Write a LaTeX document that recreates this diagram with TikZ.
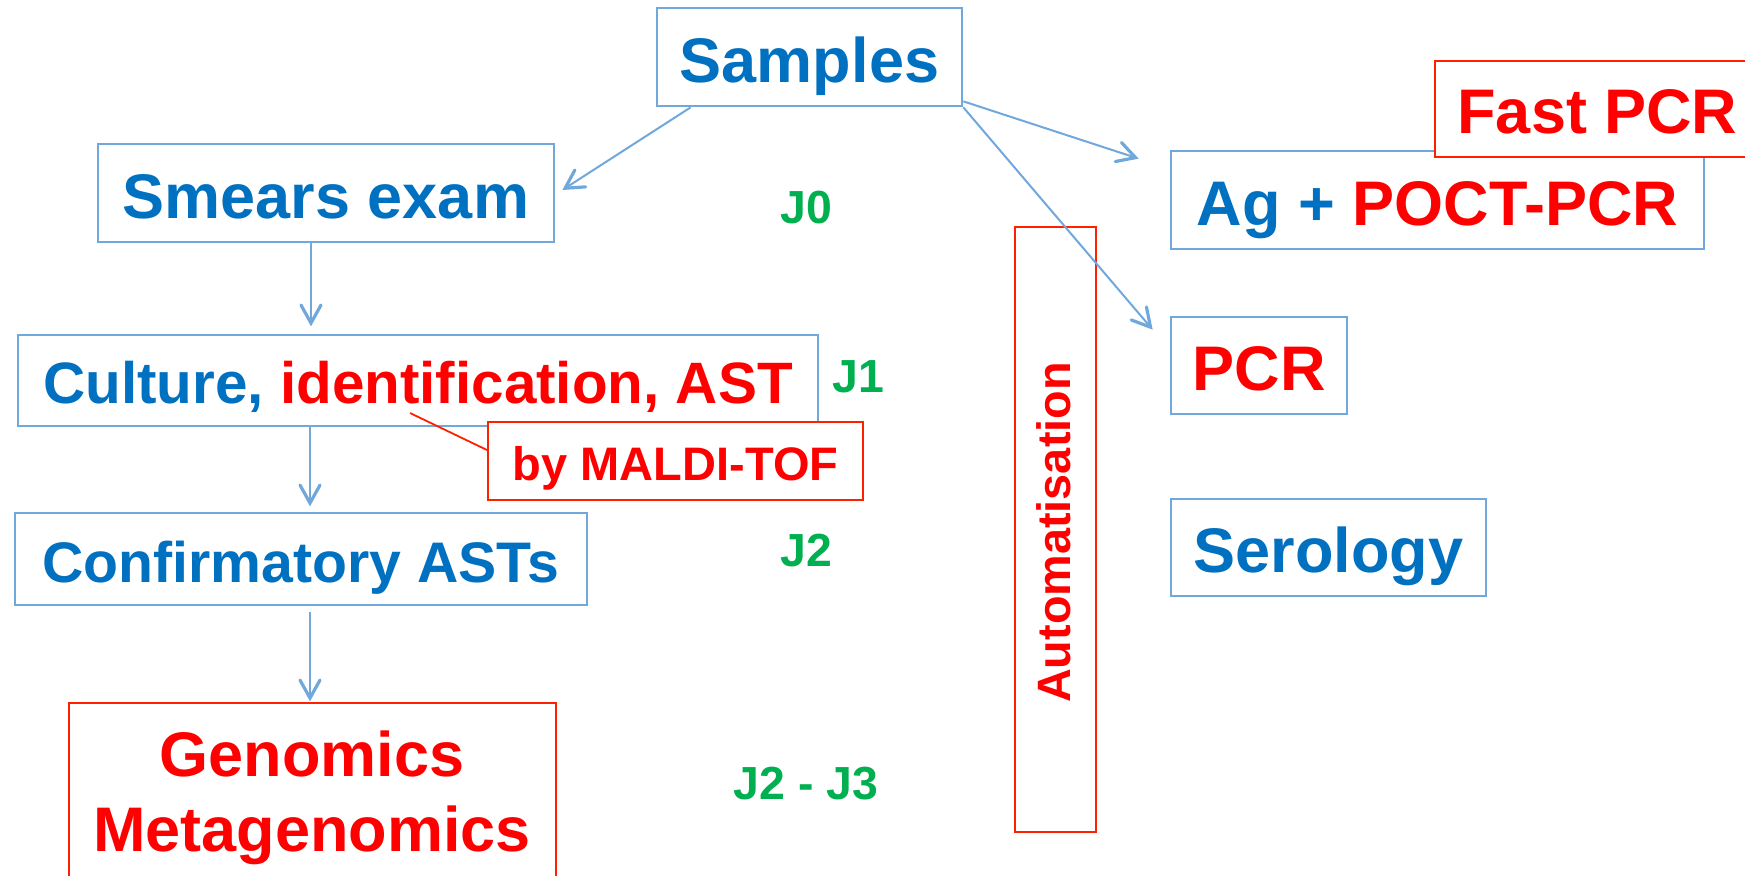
\documentclass[tikz,border=0pt]{standalone}
\usepackage{fontspec}
\setmainfont{Liberation Sans}
\usetikzlibrary{arrows.meta,calc}

\definecolor{tblue}{RGB}{0,112,192}
\definecolor{tred}{RGB}{255,0,0}
\definecolor{tgreen}{RGB}{0,176,80}
\definecolor{lblue}{RGB}{112,168,220}
\definecolor{bred}{RGB}{255,32,0}

\tikzset{
  big/.style={font=\bfseries\fontsize{31.5}{37}\selectfont, text height=25pt, text depth=0pt},
  mid/.style={font=\bfseries\fontsize{29.2}{35}\selectfont, text height=23.4pt, text depth=0pt},
  midb/.style={font=\bfseries\fontsize{28.6}{34}\selectfont, text height=23pt, text depth=0pt},
  small/.style={font=\bfseries\fontsize{23.5}{28}\selectfont, text height=19.3pt, text depth=0pt},
  bluebox/.style={draw=lblue, line width=1.35pt, inner sep=0pt, fill=white},
  redbox/.style={draw=bred, line width=1pt, inner sep=0pt},
  dayl/.style={text=tgreen, font=\bfseries\fontsize{23.2}{28}\selectfont, anchor=base, inner sep=0pt},
  arr/.style={draw=lblue, line width=1pt,
    -{Straight Barb[length=9pt,width=10pt,line width=1.6pt,line cap=round]}},
}

\begin{document}
\begin{tikzpicture}[x=0.5pt,y=-0.5pt]
\useasboundingbox (0,0) rectangle (1745,875);
\clip (0,0) rectangle (1745,875);

% left column: culture-based workflow
\node[bluebox,big,text=tblue,minimum width=152.5pt,minimum height=49pt] (samples) at (809.5,57) {Samples};
\node[bluebox,big,text=tblue,minimum width=228pt,minimum height=49pt] (smears) at (326,193) {Smears exam};
\node[bluebox,mid,text=tblue,minimum width=400pt,minimum height=45.5pt] (culture) at (418,380.5)
  {Culture, \textcolor{tred}{identification, AST}};
\node[redbox,fill=white,small,text=tred,minimum width=187.5pt,minimum height=39pt] (maldi) at (675.5,461) {by MALDI-TOF};
\node[bluebox,midb,text=tblue,minimum width=286pt,minimum height=46pt] (confirm) at (301,559) {Confirmatory ASTs};
\node[redbox,minimum width=243.5pt,minimum height=100pt] (genomics) at (312.5,803) {};
\node[big,text=tred,anchor=base,inner sep=0pt] (genline1) at (312,776) {Genomics};
\node[big,text=tred,anchor=base,inner sep=0pt] (genline2) at (312,851) {Metagenomics};

% day labels
\node[dayl] (j0) at (806,223) {J0};
\node[dayl] (j1) at (858,392) {J1};
\node[dayl] (j2) at (806,566) {J2};
\node[dayl] (j23) at (806,799) {J2 - J3};

% automation band
\node[redbox,minimum width=40.5pt,minimum height=302.5pt] (auto) at (1055.5,529.5) {};
\node[rotate=90,text=tred,inner sep=0pt,font=\bfseries\fontsize{23.4}{28}\selectfont,
      text height=16.8pt,text depth=0pt] (autotext) at (1054,532.5) {Automatisation};

% right column: molecular and serological tests
\node[bluebox,big,text=tblue,minimum width=266.5pt,minimum height=49pt] (agpcr) at (1437.5,200)
  {Ag + \textcolor{tred}{POCT-PCR}};
\node[redbox,fill=white,big,text=tred,minimum width=162.5pt,minimum height=48.25pt] (fastpcr) at (1597.5,108.75) {Fast PCR};
\node[bluebox,big,text=tred,minimum width=88pt,minimum height=48.5pt] (pcr) at (1259,365.5) {PCR};
\node[bluebox,big,text=tblue,minimum width=157.5pt,minimum height=48.5pt] (serology) at (1328.5,547.5) {Serology};

% connectors
\coordinate (idpt) at (410,413);
\draw[bred,line width=0.9pt] (idpt) -- ($(maldi.north west)+(0,29)$);

\draw[arr] ($(samples.south west)+(35,0)$) -- ($(smears.east)+(7,-3)$);
\draw[arr] ($(samples.south east)+(0,-6)$) -- ($(agpcr.north west)+(-31,9)$);
\draw[arr] (samples.south east) -- ($(pcr.north west)+(-17,14)$);
\draw[arr] ($(smears.south)+(-15,0)$) -- ++(0,83);
\draw[arr] ($(culture.south)+(-108,0)$) -- ++(0,79);
\draw[arr] ($(confirm.south)+(9,6)$) -- ++(0,89);
\end{tikzpicture}
\end{document}
